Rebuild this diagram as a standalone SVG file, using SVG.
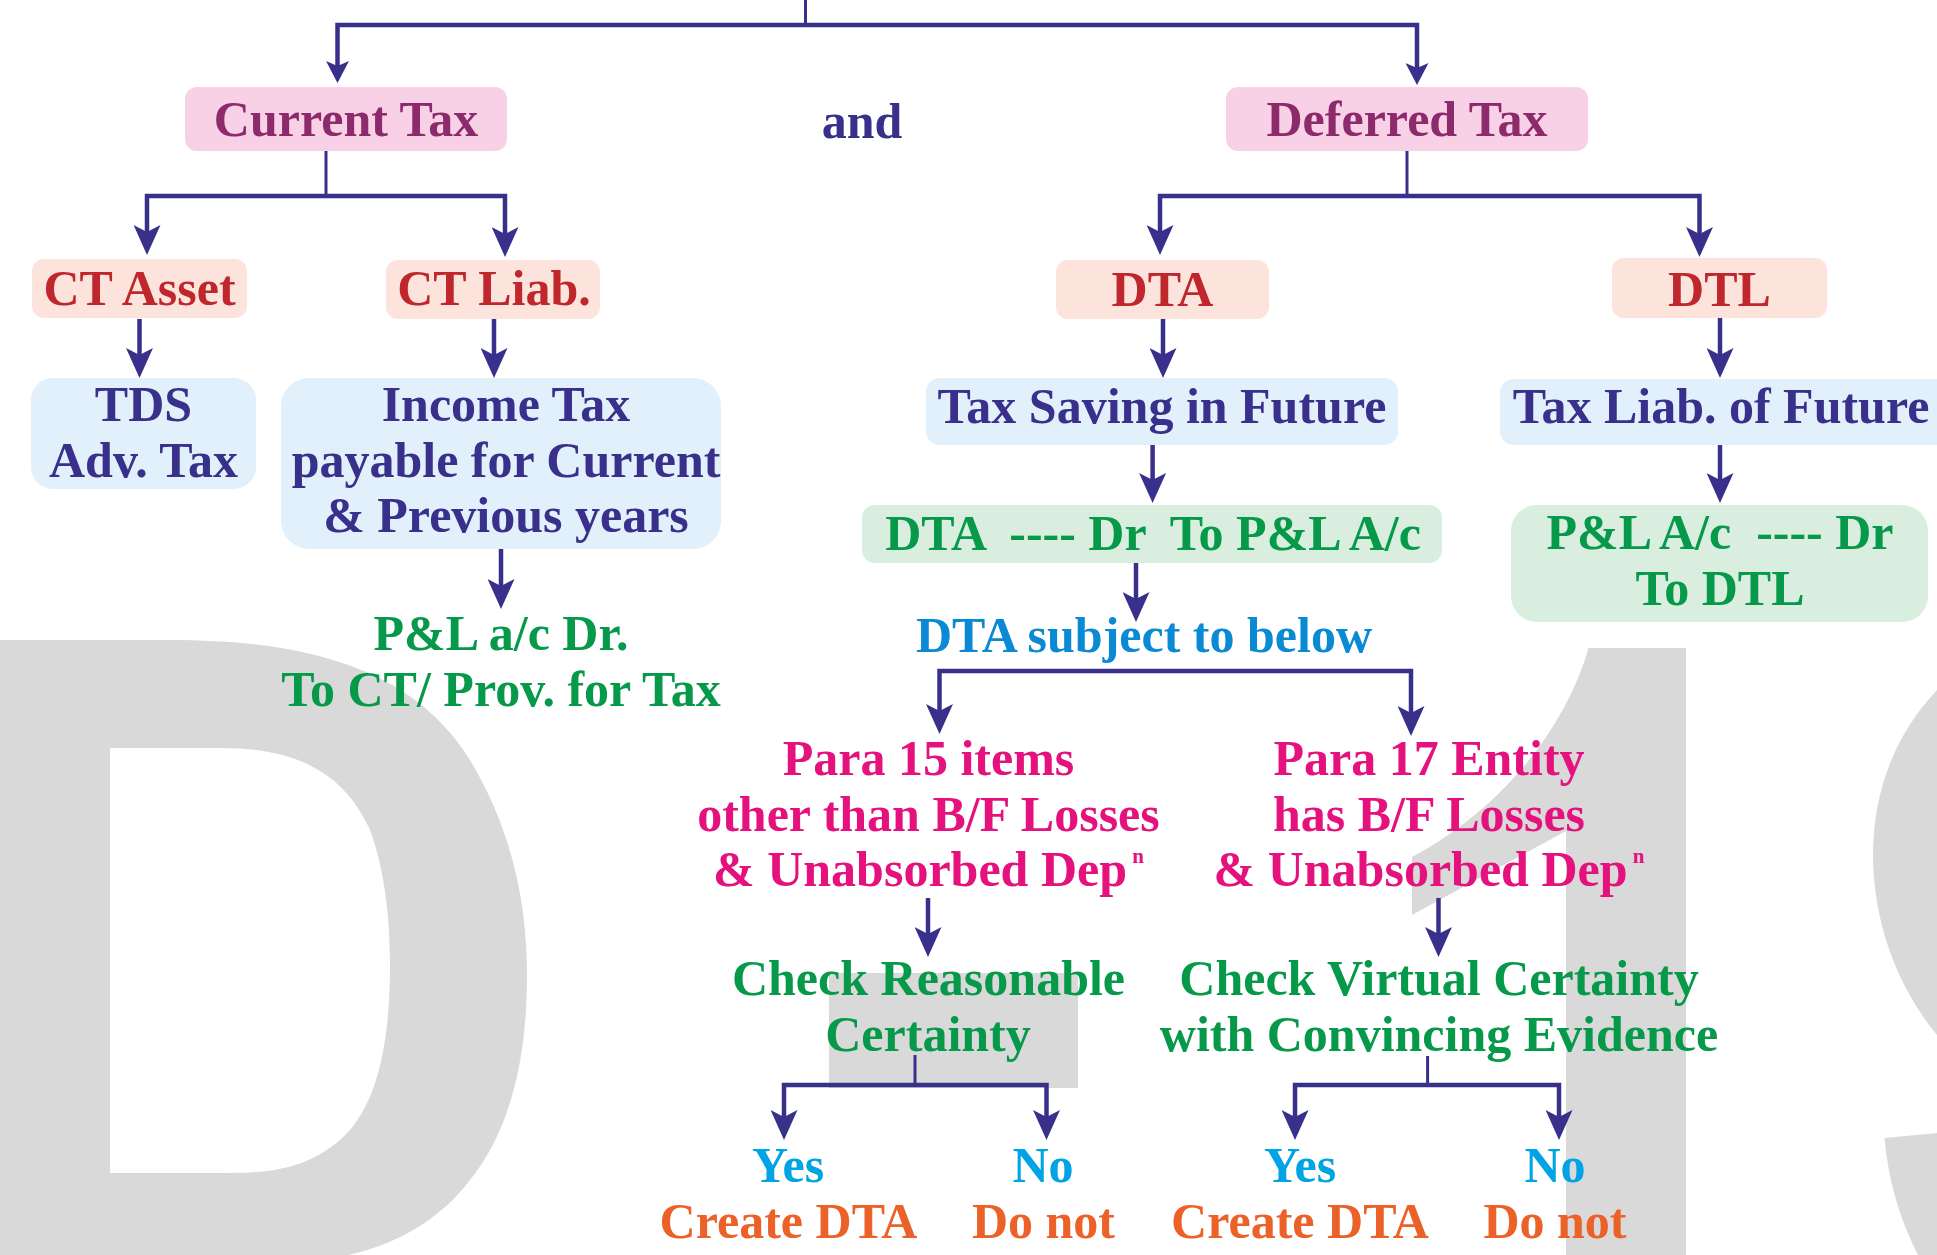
<svg xmlns="http://www.w3.org/2000/svg" width="1937" height="1255" viewBox="0 0 1937 1255">
<style>
text{font-family:"Liberation Serif","Times New Roman",serif;font-weight:bold;font-size:50px;text-anchor:middle;white-space:pre}
.nv{fill:#38308a}.pk{fill:#8c2a6c}.rd{fill:#bf272d}.gr{fill:#06994a}.bl{fill:#0a8ad4}.mg{fill:#e5127d}.cy{fill:#00a3e4}.or{fill:#eb6128}
.bxp{fill:#f9d1e7}.bxr{fill:#fce4dc}.bxb{fill:#e2f0fb}.bxg{fill:#d9eedf}
.wm{fill:#d9d9d9}
.c{fill:none;stroke:#38308a;stroke-width:4.5;stroke-linejoin:miter}
.st{fill:none;stroke:#38308a;stroke-width:3}
</style>
<defs>
<marker id="ah" viewBox="0 0 30 27" refX="20" refY="13.5" markerWidth="30" markerHeight="27" markerUnits="userSpaceOnUse" orient="auto-start-reverse"><path d="M0,0 L30,13.5 L0,27 L7,13.5 Z" fill="#38308a"/></marker>
<marker id="ahs" viewBox="0 0 22 23" refX="14" refY="11.5" markerWidth="22" markerHeight="23" markerUnits="userSpaceOnUse" orient="auto-start-reverse"><path d="M0,0 L22,11.5 L0,23 L5,11.5 Z" fill="#38308a"/></marker>
</defs>
<g id="watermark">
<path class="wm" fill-rule="evenodd" d="M0,640 H170 C330,640 420,680 470,760 C515,835 527,910 527,975 C527,1060 510,1130 470,1180 C440,1220 395,1245 348,1255 H0 Z M110,748 H220 C300,748 345,775 370,830 C385,870 390,920 390,965 C390,1050 375,1110 340,1140 C310,1165 280,1173 230,1173 H110 Z"/>
<path class="wm" d="M1588.6,648 H1686 V1255 H1566 V831 L1412,915 V857 C1500,810 1565,730 1588.6,648 Z"/>
<path class="wm" d="M1937,690 C1890,740 1872,800 1873,861 C1875,930 1900,990 1937,1035 Z"/>
<path class="wm" d="M1884.5,1138 L1937,1133 V1255 H1918 C1900,1220 1888,1180 1884.5,1138 Z"/>
<rect class="wm" x="829" y="973" width="249" height="115"/>
</g>
<g id="connectors">
<path class="st" stroke-width="2.5" d="M805.5,0 V25"/>
<path class="c" stroke-width="3.5" d="M337.5,75 V25 H1417 V77" marker-start="url(#ahs)" marker-end="url(#ahs)"/>
<path class="st" d="M326,151 V196"/>
<path class="c" d="M147,245 V196 H505 V247" marker-start="url(#ah)" marker-end="url(#ah)"/>
<path class="st" d="M1407,151 V196"/>
<path class="c" d="M1160,245 V196 H1699.5 V247" marker-start="url(#ah)" marker-end="url(#ah)"/>
<path class="c" d="M139.5,319 V368" marker-end="url(#ah)"/>
<path class="c" d="M494,319 V368" marker-end="url(#ah)"/>
<path class="c" d="M501,549 V599" marker-end="url(#ah)"/>
<path class="c" d="M1163,319 V368" marker-end="url(#ah)"/>
<path class="c" d="M1720,318 V368" marker-end="url(#ah)"/>
<path class="c" d="M1152.6,445 V493" marker-end="url(#ah)"/>
<path class="c" d="M1720,445 V493" marker-end="url(#ah)"/>
<path class="c" d="M1136,563 V612" marker-end="url(#ah)"/>
<path class="c" d="M939.5,724 V671 H1411 V726" marker-start="url(#ah)" marker-end="url(#ah)"/>
<path class="c" d="M928,898 V947" marker-end="url(#ah)"/>
<path class="c" d="M1438.5,898 V947" marker-end="url(#ah)"/>
<path class="st" d="M915,1055 V1085"/>
<path class="c" d="M784,1130 V1085 H1046.5 V1130" marker-start="url(#ah)" marker-end="url(#ah)"/>
<path class="st" d="M1427.6,1056 V1085"/>
<path class="c" d="M1295,1130 V1085 H1559 V1130" marker-start="url(#ah)" marker-end="url(#ah)"/>
</g>
<g id="current-tax"><rect class="bxp" x="185" y="87" width="322" height="64" rx="12"/><text class="pk" x="346" y="136">Current Tax</text></g>
<g id="and"><text class="nv" x="862" y="138">and</text></g>
<g id="deferred-tax"><rect class="bxp" x="1226" y="87" width="362" height="64" rx="12"/><text class="pk" x="1407" y="136">Deferred Tax</text></g>
<g id="ct-asset"><rect class="bxr" x="32" y="259" width="215" height="59" rx="12"/><text class="rd" x="139.5" y="305">CT Asset</text></g>
<g id="ct-liab"><rect class="bxr" x="386" y="260" width="214" height="59" rx="12"/><text class="rd" x="494" y="305">CT Liab.</text></g>
<g id="dta"><rect class="bxr" x="1056" y="260" width="213" height="59" rx="12"/><text class="rd" x="1162.5" y="306">DTA</text></g>
<g id="dtl"><rect class="bxr" x="1612" y="258" width="215" height="60" rx="12"/><text class="rd" x="1719.5" y="306">DTL</text></g>
<g id="tds"><rect class="bxb" x="31" y="378" width="225" height="111" rx="22"/><text class="nv" x="143.5" y="421">TDS</text><text class="nv" x="143.5" y="477">Adv. Tax</text></g>
<g id="income-tax"><rect class="bxb" x="281" y="378" width="440" height="171" rx="28"/><text class="nv" x="506" y="421">Income Tax</text><text class="nv" x="506" y="477">payable for Current</text><text class="nv" x="506" y="532">&amp; Previous years</text></g>
<g id="pl-ct"><text class="gr" x="501" y="650">P&amp;L a/c Dr.</text><text class="gr" x="501" y="706">To CT/ Prov. for Tax</text></g>
<g id="tax-saving"><rect class="bxb" x="926" y="378" width="472" height="67" rx="14"/><text class="nv" x="1162" y="423">Tax Saving in Future</text></g>
<g id="tax-liab"><rect class="bxb" x="1500" y="379" width="452" height="66" rx="14"/><text class="nv" x="1721" y="423">Tax Liab. of Future</text></g>
<g id="dta-entry"><rect class="bxg" x="862" y="505" width="580" height="58" rx="13"/><text class="gr" x="1153" y="550">DTA  ---- Dr  To P&amp;L A/c</text></g>
<g id="dtl-entry"><rect class="bxg" x="1511" y="505" width="417" height="117" rx="26"/><text class="gr" x="1720" y="549">P&amp;L A/c  ---- Dr</text><text class="gr" x="1720" y="605">To DTL</text></g>
<g id="dta-subject"><text class="bl" x="1144" y="652">DTA subject to below</text></g>
<g id="para15"><text class="mg" x="928.5" y="775">Para 15 items</text><text class="mg" x="928.5" y="830.5">other than B/F Losses</text><text class="mg" x="928.5" y="885.5">&amp; Unabsorbed Dep<tspan font-size="21" dy="-23"> n</tspan></text></g>
<g id="para17"><text class="mg" x="1429" y="775">Para 17 Entity</text><text class="mg" x="1429" y="830.5">has B/F Losses</text><text class="mg" x="1429" y="885.5">&amp; Unabsorbed Dep<tspan font-size="21" dy="-23"> n</tspan></text></g>
<g id="reasonable"><text class="gr" x="928.5" y="995">Check Reasonable</text><text class="gr" x="928" y="1051">Certainty</text></g>
<g id="virtual"><text class="gr" x="1439" y="995">Check Virtual Certainty</text><text class="gr" x="1439" y="1051">with Convincing Evidence</text></g>
<g id="yes1"><text class="cy" x="788" y="1182">Yes</text><text class="or" x="788.5" y="1238">Create DTA</text></g>
<g id="no1"><text class="cy" x="1043" y="1182">No</text><text class="or" x="1043.5" y="1238">Do not</text></g>
<g id="yes2"><text class="cy" x="1300" y="1182">Yes</text><text class="or" x="1300" y="1238">Create DTA</text></g>
<g id="no2"><text class="cy" x="1555" y="1182">No</text><text class="or" x="1555" y="1238">Do not</text></g>
</svg>
